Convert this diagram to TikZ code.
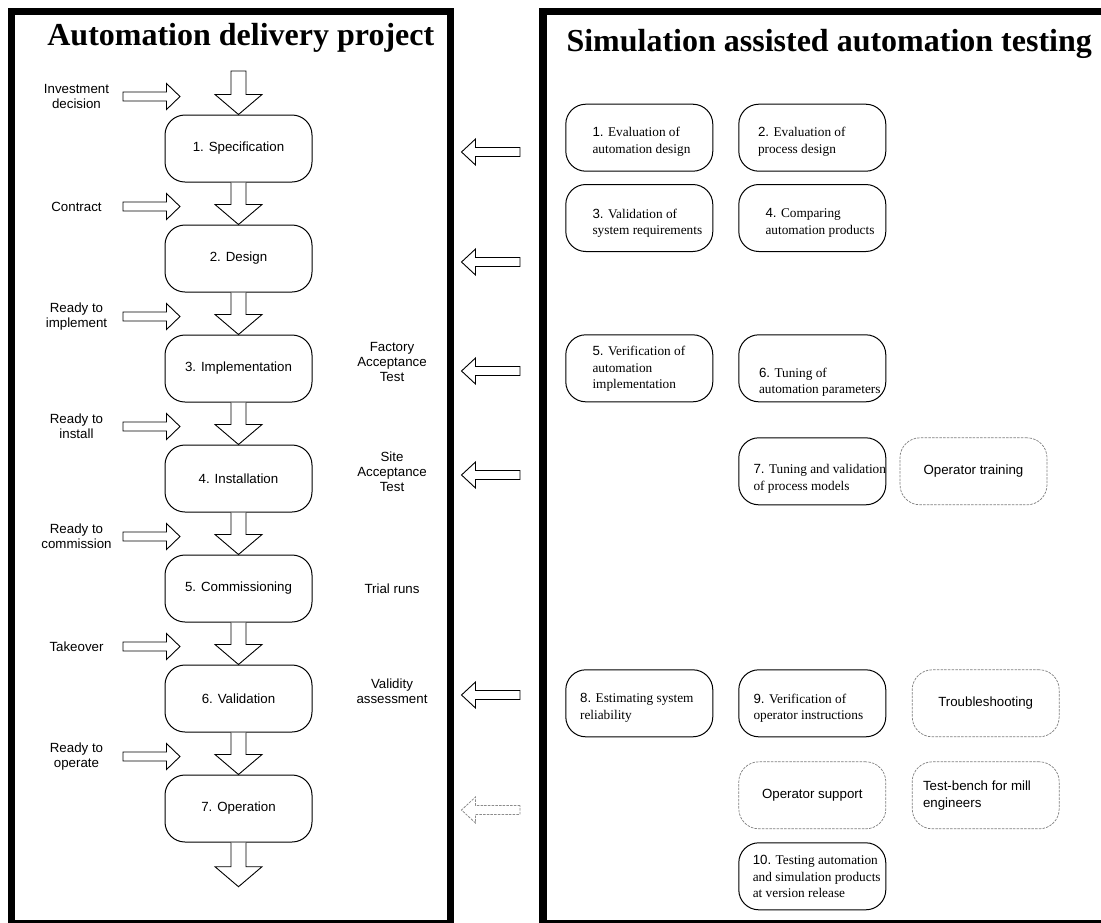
\documentclass[tikz,border=0pt]{standalone}
\usepackage{fontspec}
\setmainfont{Liberation Serif}
\setsansfont{Liberation Sans}
\usetikzlibrary{calc}
\newcommand\DArrow[2]{\draw[blk] ($(#1)+(-7.5,0)$) -- ($(#2)+(-7.5,-20)$) -- ($(#2)+(-23.5,-20)$) -- (#2) -- ($(#2)+(23.5,-20)$) -- ($(#2)+(7.5,-20)$) -- ($(#1)+(7.5,0)$);}
\newcommand\DArrowC[2]{\draw[blk] ($(#1)+(-7.5,0)$) -- ($(#2)+(-7.5,-20)$) -- ($(#2)+(-23.5,-20)$) -- (#2) -- ($(#2)+(23.5,-20)$) -- ($(#2)+(7.5,-20)$) -- ($(#1)+(7.5,0)$) -- cycle;}
\newcommand\RArrow[2]{\draw[blk] ($(#1)+(0,-4.5)$) -- ($(#2)+(-13.5,-4.5)$) -- ($(#2)+(-13.5,-13)$) -- (#2) -- ($(#2)+(-13.5,13)$) -- ($(#2)+(-13.5,4.5)$) -- ($(#1)+(0,4.5)$) -- cycle;}
\newcommand\LArrow[3]{\draw[#1] ($(#2)+(0,-4.5)$) -- ($(#3)+(14,-4.5)$) -- ($(#3)+(14,-13)$) -- (#3) -- ($(#3)+(14,13)$) -- ($(#3)+(14,4.5)$) -- ($(#2)+(0,4.5)$) -- cycle;}
\begin{document}
\begin{tikzpicture}[x=1pt,y=-1pt,
  frame/.style={draw, line width=7.5pt, line join=miter},
  lbox/.style={draw, line width=1pt, rounded corners=20pt, minimum width=147pt, minimum height=67pt, inner sep=0pt, font=\sffamily\fontsize{13.3}{15}\selectfont},
  rbox/.style={draw, line width=1pt, rounded corners=20pt, minimum width=147pt, minimum height=67pt, inner sep=0pt},
  dbox/.style={rbox, draw=black!50, line width=0.7pt, dash pattern=on 2.5pt off 1.2pt, font=\sffamily\fontsize{13.3}{16.5}\selectfont, align=left},
  rtxt/.style={inner sep=0pt, anchor=west, align=left, font=\fontsize{13.3}{16.5}\selectfont},
  lab/.style={inner sep=0pt, align=center, font=\sffamily\fontsize{13.3}{15}\selectfont},
  ttl/.style={inner sep=0pt, anchor=base, font=\bfseries\fontsize{32}{36}\selectfont},
  blk/.style={draw, line width=0.9pt, line join=miter, fill=white},
  dblk/.style={draw=black!45, line width=0.8pt, line join=miter, dash pattern=on 2.5pt off 1.2pt, fill=white}
]
\useasboundingbox (0,0) rectangle (1101,922);
\fill[white] (0,0) rectangle (1101,922);
% frames
\draw[frame] (11.5,11.5) rectangle (450.5,924);
\draw[frame] (543,11.5) rectangle (1106,924);
% titles
\node[ttl] (t1) at (240.8,45) {Automation delivery project};
\node[ttl] (t2) at (829.2,51) {Simulation assisted automation testing};
% left flow boxes
\node[lbox] (b1) at (238.5,148.5) {1. Specification};
\node[lbox] (b2) at (238.5,258.5) {2. Design};
\node[lbox] (b3) at (238.5,368.5) {3. Implementation};
\node[lbox] (b4) at (238.5,478.5) {4. Installation};
\node[lbox] (b5) at (238.5,588.5) {5. Commissioning};
\node[lbox] (b6) at (238.5,698.5) {6. Validation};
\node[lbox] (b7) at (238.5,808.5) {7. Operation};
% down arrows
\coordinate (top) at (238.5,71);
\coordinate (end) at (238.5,886.7);
\DArrowC{top}{b1.north}
\DArrow{b1.south}{b2.north}
\DArrow{b2.south}{b3.north}
\DArrow{b3.south}{b4.north}
\DArrow{b4.south}{b5.north}
\DArrow{b5.south}{b6.north}
\DArrow{b6.south}{b7.north}
\DArrow{b7.south}{end}
% input arrows and labels
\foreach \i in {1,...,7}{
  \coordinate (ih\i) at ($(b\i.north)+(-58.5,-18)$);
  \coordinate (it\i) at ($(b\i.north)+(-115.5,-18)$);
  \RArrow{it\i}{ih\i}
}
\node[lab] (l1) at ($(b1.north)+(-162,-18)$) {Investment\\decision};
\node[lab] (l2) at ($(b2.north)+(-162,-18)$) {Contract};
\node[lab] (l3) at ($(b3.north)+(-162,-18)$) {Ready to\\implement};
\node[lab] (l4) at ($(b4.north)+(-162,-18)$) {Ready to\\install};
\node[lab] (l5) at ($(b5.north)+(-162,-18)$) {Ready to\\commission};
\node[lab] (l6) at ($(b6.north)+(-162,-18)$) {Takeover};
\node[lab] (l7) at ($(b7.north)+(-162,-18)$) {Ready to\\operate};
% right labels
\node[lab] (m3) at (392,361.5) {Factory\\Acceptance\\Test};
\node[lab] (m4) at (392,471.7) {Site\\Acceptance\\Test};
\node[lab] (m5) at (392,588.5) {Trial runs};
\node[lab] (m6) at (392,691.7) {Validity\\assessment};
% left pointing arrows between panels
\foreach \i/\y in {1/152,2/262,3/371,4/475,6/695}{
  \coordinate (s\i) at (520,\y);
  \coordinate (e\i) at (461.5,\y);
  \LArrow{blk}{s\i}{e\i}
}
\coordinate (s7) at (520,810);
\coordinate (e7) at (461.5,810);
\LArrow{dblk}{s7}{e7}
% right panel boxes
\node[rbox] (r1) at (639.3,137.7) {};
\node[rbox] (r2) at (812.3,137.7) {};
\node[rbox] (r3) at (639.3,218) {};
\node[rbox] (r4) at (812.3,218) {};
\node[rbox] (r5) at (639.3,368.3) {};
\node[rbox] (r6) at (812.3,368.3) {};
\node[rbox] (r7) at (812.3,471.3) {};
\node[dbox] (rot) at (973.5,471.3) {Operator training};
\node[rbox] (r8) at (639.3,703.3) {};
\node[rbox] (r9) at (812.3,703.3) {};
\node[dbox] (rts) at (985.7,703.3) {Troubleshooting};
\node[dbox] (ros) at (812.3,795.3) {Operator support};
\node[dbox] (rtb) at (985.7,795.3) {};
\node[rbox] (r10) at (812.3,876.3) {};
% right panel texts
\node[rtxt] (x1) at ($(r1.west)+(27,4)$) {{\sffamily 1.} Evaluation of\\automation design};
\node[rtxt] (x2) at ($(r2.west)+(19.5,4)$) {{\sffamily 2.} Evaluation of\\process design};
\node[rtxt] (x3) at ($(r3.west)+(27,5)$) {{\sffamily 3.} Validation of\\system requirements};
\node[rtxt] (x4) at ($(r4.west)+(27,5)$) {{\sffamily 4.} Comparing\\automation products};
\node[rtxt] (x5) at ($(r5.west)+(27,0.5)$) {{\sffamily 5.} Verification of\\automation\\implementation};
\node[rtxt] (x6) at ($(r6.west)+(20.5,14)$) {{\sffamily 6.} Tuning of\\automation parameters};
\node[rtxt] (x7) at ($(r7.west)+(15,7.4)$) {{\sffamily 7.} Tuning and validation\\of process models};
\node[rtxt] (x8) at ($(r8.west)+(14.6,4.7)$) {{\sffamily 8.} Estimating system\\reliability};
\node[rtxt] (x9) at ($(r9.west)+(15,4.7)$) {{\sffamily 9.} Verification of\\operator instructions};
\node[rtxt] (x10) at ($(r10.west)+(14.3,0.4)$) {{\sffamily 10.} Testing automation\\and simulation products\\at version release};
\node[rtxt, font=\sffamily\fontsize{13.3}{16.5}\selectfont] (xtb) at ($(rtb.west)+(11,0)$) {Test-bench for mill\\engineers};
\end{tikzpicture}
\end{document}
